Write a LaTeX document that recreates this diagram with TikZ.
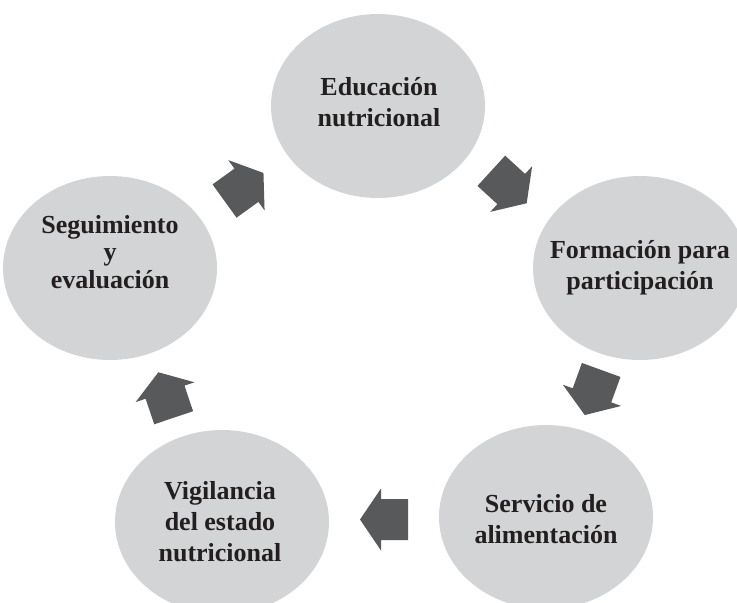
\documentclass[tikz,border=0pt]{standalone}
\usepackage{fontspec}
\setmainfont{Liberation Serif}
\usetikzlibrary{shapes.geometric,calc}
\definecolor{circgray}{RGB}{211,212,214}
\definecolor{arrgray}{RGB}{88,89,91}
\definecolor{txtblack}{RGB}{35,31,32}
\begin{document}
\begin{tikzpicture}[x=1pt,y=-1pt,
  stage/.style={ellipse, fill=circgray, minimum width=214pt, minimum height=184pt, inner sep=0pt, outer sep=0pt},
  stagetext/.style={align=center, text=txtblack, inner sep=0pt, font=\fontsize{26}{31}\selectfont\bfseries},
  blockarrow/.pic={\fill[arrgray] (-24,-20.5) -- (3,-20.5) -- (3,-31) -- (24,0) -- (3,31) -- (3,20.5) -- (-24,20.5) -- cycle;}]
\useasboundingbox (0,0) rectangle (737,603);
\clip (0,0) rectangle (737,603);
% stages
\node[stage] (edu) at (378,106) {};
\node[stage] (form) at (640,268) {};
\node[stage] (serv) at (546,517) {};
\node[stage] (vig) at (222,522) {};
\node[stage] (seg) at (110,268) {};
% texts
\node[stagetext] (edut) at (379,102) {Educación\\nutricional};
\node[stagetext] (formt) at (form) {Formación para\\participación};
\node[stagetext] (servt) at (546,519) {Servicio de\\alimentación};
\node[stagetext] (vigt) at (220,522) {Vigilancia\\del estado\\nutricional};
\node[stagetext, font=\fontsize{26}{27.5}\selectfont\bfseries] (segt) at (110,252) {Seguimiento\\y\\evaluación};
% cycle arrows
\pic[rotate=35.8] at ($(seg)!0.5!(edu)$) {blockarrow};
\pic[rotate=-42.5] at ($(edu)!0.5!(form)$) {blockarrow};
\pic[rotate=-110] at ($(form)!0.5!(serv)$) {blockarrow};
\pic[rotate=180] at ($(serv)!0.5!(vig)$) {blockarrow};
\pic[rotate=108.6] at ($(vig)!0.5!(seg)$) {blockarrow};
\end{tikzpicture}
\end{document}
